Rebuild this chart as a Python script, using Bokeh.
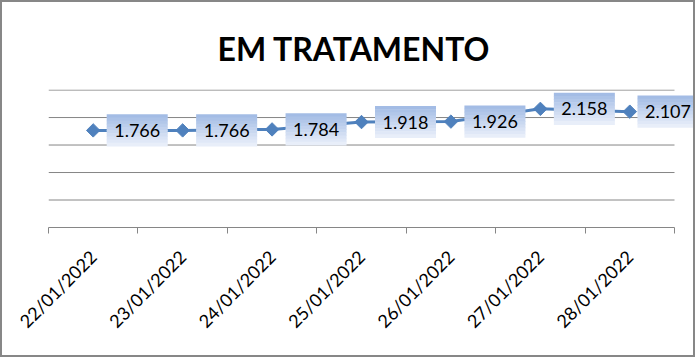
import math
from bokeh.plotting import figure
from bokeh.models import (Range1d, LinearAxis, FixedTicker, Grid, ColumnDataSource)
from bokeh.transform import dodge
from bokeh.core.properties import value
from bokeh.embed import file_html
from bokeh.resources import INLINE

# ---- data ----
title_text = "EM TRATAMENTO"
dates = ["22/01/2022", "23/01/2022", "24/01/2022", "25/01/2022",
         "26/01/2022", "27/01/2022", "28/01/2022"]
em_tratamento = [1766, 1766, 1784, 1918, 1926, 2158, 2107]
labels = [f"{v:,}".replace(",", ".") for v in em_tratamento]
grid_ticks = [500, 1000, 1500, 2000, 2500]
y_min, y_max = 0, 2500

# category slot centres / boundaries (Excel-style category axis)
n = len(dates)
slot = [i + 0.5 for i in range(n)]
bounds = list(range(n + 1))

# ---- layout constants ----
W, H = 695, 357
ML, MR, MT, MB = 46, 0, 87, 132
slot_px = 626 / 7            # width of one category slot on screen
frame_w = W - ML - MR
frame_h = H - MT - MB
x_end = frame_w / slot_px    # frame runs past the last slot so the last label fits
y_top = y_max + 10
units_per_px = (y_top - y_min) / frame_h
BLUE = "#4F81BD"
GRID = "#868686"
box_w, box_h = 61, 31.5
label_gap = 44               # preferred label offset (px) right of the point

# data labels sit right of the point, pulled back if they would leave the chart
label_dx = [min(label_gap, (W + 1) - (ML + s * slot_px) - box_w / 2) / slot_px for s in slot]

src = ColumnDataSource(dict(x=slot, y=em_tratamento, lbl=labels,
                            lx=[s + d for s, d in zip(slot, label_dx)]))

p = figure(width=W, height=H,
           x_range=Range1d(0, x_end),
           y_range=Range1d(y_min, y_top),
           x_axis_location=None, y_axis_location=None,
           output_backend="svg", toolbar_location=None,
           min_border_left=ML, min_border_right=MR,
           min_border_top=MT, min_border_bottom=MB)
p.center = [r for r in p.center if not isinstance(r, Grid)]
p.styles = {"border": "2px solid #878787"}
p.outline_line_color = None
p.background_fill_color = "white"
p.border_fill_color = "white"

p.title.text = title_text
p.title.align = "left"
p.title.text_font = "Lato"
p.title.text_font_style = "bold"
p.title.text_font_size = "32px"
p.title.text_color = "black"
p.title.standoff = 44
p.title.offset = 169

# horizontal gridlines limited to the category slots
p.segment(x0=0, x1=n, y0=grid_ticks, y1=grid_ticks,
          line_color=GRID, line_width=1)

x_axis = LinearAxis(ticker=FixedTicker(ticks=slot, minor_ticks=bounds),
                    bounds=(0, n),
                    major_label_overrides={s: d for s, d in zip(slot, dates)},
                    major_tick_line_color=None, major_tick_out=0, major_tick_in=0,
                    minor_tick_out=6, minor_tick_in=0, minor_tick_line_color=GRID,
                    axis_line_color=GRID,
                    major_label_orientation=math.pi / 4,
                    major_label_standoff=20,
                    major_label_text_font="Lato",
                    major_label_text_font_size="18px",
                    major_label_text_color="black")
p.add_layout(x_axis, "below")

p.line(x="x", y="y", source=src, line_color=BLUE, line_width=3)
p.scatter(x="x", y="y", source=src, marker="square", angle=math.pi / 4,
          size=9.5, fill_color=BLUE, line_color=BLUE)

# gradient label boxes
top_c = (0xA3, 0xBC, 0xE5)
bot_c = (0xE8, 0xEE, 0xF9)
N = 10
sh = box_h / N
for k in range(N):
    t = k / (N - 1)
    col = "#%02x%02x%02x" % tuple(round(a + (b - a) * t) for a, b in zip(top_c, bot_c))
    off_px = box_h / 2 - (k + 0.5) * sh
    p.rect(x="lx",
           y=dodge("y", off_px * units_per_px, range=p.y_range),
           width=box_w, height=sh + 0.6, width_units="screen", height_units="screen",
           source=src, fill_color=col, line_color=None)

p.text(x="lx", y="y", text="lbl", source=src,
       text_align="center", text_baseline="middle",
       text_font=value("Lato"), text_font_size="18px", text_color="black")

open("out.html", "w").write(file_html(p, INLINE))
